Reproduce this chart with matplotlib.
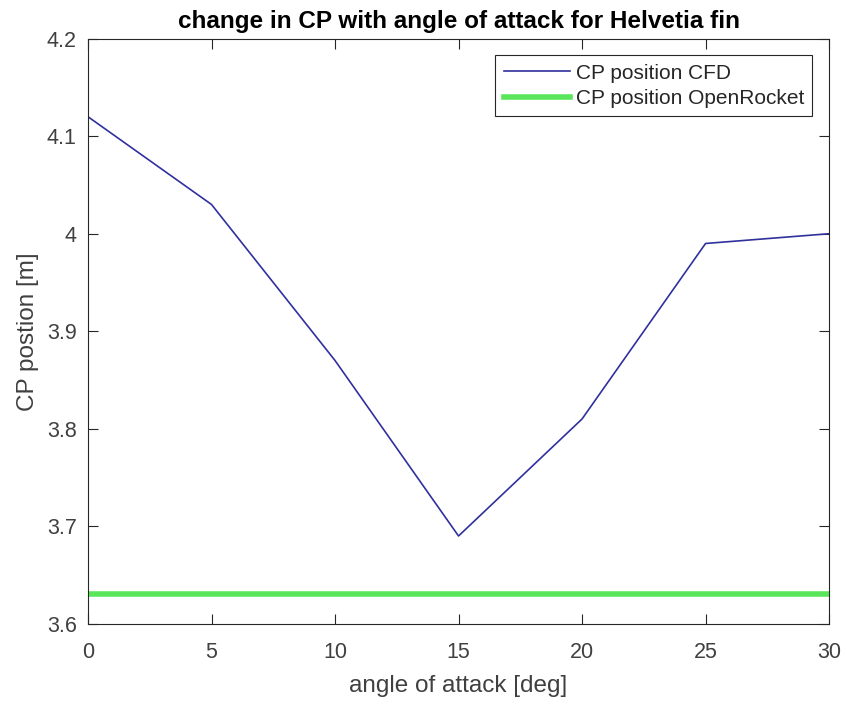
import matplotlib
matplotlib.use('Agg')
import matplotlib.pyplot as plt

plt.rcParams['font.family'] = ['Liberation Sans', 'DejaVu Sans']

# data
angle = [0, 5, 10, 15, 20, 25, 30]
cp_cfd = [4.12, 4.03, 3.87, 3.69, 3.81, 3.99, 4.00]
cp_openrocket = 3.63

fig = plt.figure(figsize=(8.46, 7.04), dpi=100)
ax = fig.add_axes([0.104, 0.114, 0.876, 0.831])

ax.plot(angle, cp_cfd, color='#30309e', linewidth=1.2, label='CP position CFD')
ax.plot([angle[0], angle[-1]], [cp_openrocket, cp_openrocket], color='#5ae65a',
        linewidth=4, label='CP position OpenRocket')

ax.set_xlim(0, 30)
ax.set_ylim(3.6, 4.2)
ax.set_xticks([0, 5, 10, 15, 20, 25, 30])
ax.set_yticks([3.6, 3.7, 3.8, 3.9, 4.0, 4.1, 4.2])
ax.set_yticklabels(['3.6', '3.7', '3.8', '3.9', '4', '4.1', '4.2'])
ax.tick_params(direction='in', top=True, right=True, labelsize=15.5, length=7,
               colors='#262626', labelcolor='#404040')
ax.tick_params(axis='x', pad=13)
ax.tick_params(axis='y', pad=8)
for s in ax.spines.values():
    s.set_color('#262626')

ax.set_xlabel('angle of attack [deg]', fontsize=17.5, color='#404040', labelpad=9)
ax.set_ylabel('CP postion [m]', fontsize=17.5, color='#404040', labelpad=6)
ax.set_title('change in CP with angle of attack for Helvetia fin', fontsize=17.5,
             fontweight='bold', pad=8)

leg = ax.legend(loc='upper right', fontsize=15, fancybox=False, framealpha=1,
                edgecolor='#262626', borderaxespad=0.8, handlelength=3.2,
                handletextpad=0.25, borderpad=0.4, labelspacing=0.3)
leg.get_frame().set_linewidth(0.8)
for t in leg.get_texts():
    t.set_color('#262626')

fig.savefig('out.png', dpi=100)
